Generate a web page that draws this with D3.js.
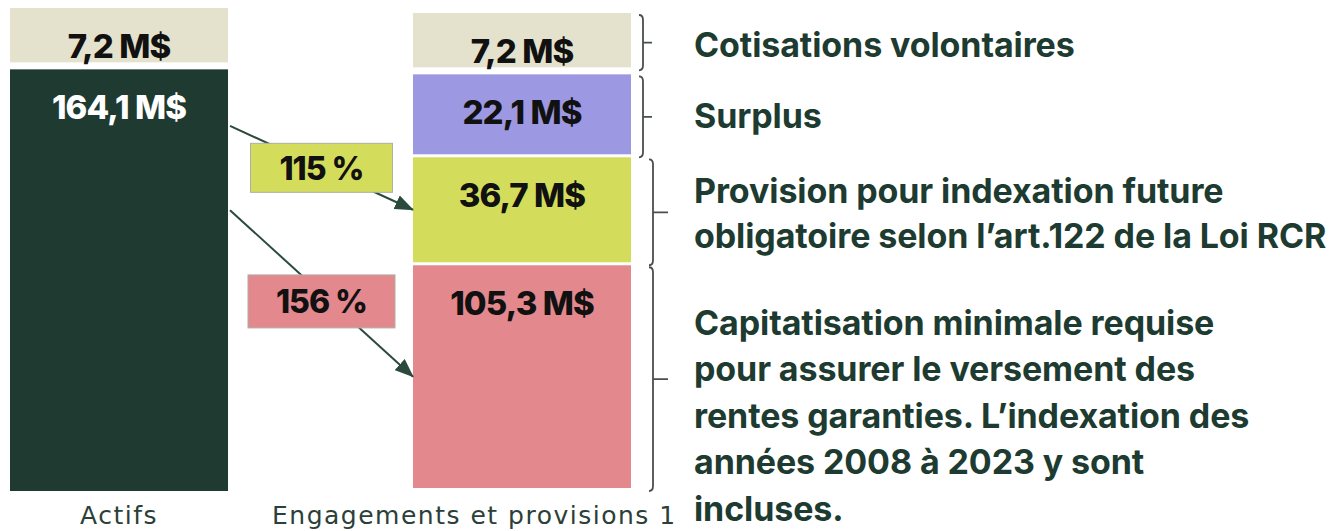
<!DOCTYPE html>
<html lang="fr">
<head>
  <meta charset="UTF-8">
  <title>Actifs et engagements</title>
  <style>
    body { margin: 0; background: #fff; }
    svg { display: block; }
  </style>
</head>
<body>
  <svg class="chart"></svg>
  <script src="https://cdn.jsdelivr.net/npm/d3@7"></script>
  <script>
    // columns and values (M$)
    let columns = ['Actifs', 'Engagements et provisions 1']
    let assetNames = ['Cotisations volontaires', 'Actifs']
    let assetValues = [7.2, 164.1]
    let liabilityNames = ['Cotisations volontaires', 'Surplus', 'Provision', 'Capitatisation']
    let liabilityValues = [7.2, 22.1, 36.7, 105.3]
    let ratioLabels = ['115 %', '156 %']
    let ratioTargets = ['Provision', 'Capitatisation']
    let descriptions = [
      ['Cotisations volontaires'],
      ['Surplus'],
      ['Provision pour indexation future', 'obligatoire selon l’art.122 de la Loi RCR'],
      ['Capitatisation minimale requise', 'pour assurer le versement des',
        'rentes garanties. L’indexation des', 'années 2008 à 2023 y sont', 'incluses.']
    ]

    let width = 1339, height = 531
    let svg = d3.select('svg')
      .attr('width', width)
      .attr('height', height)

    let color = d3.scaleOrdinal()
      .domain(['Cotisations volontaires', 'Actifs', 'Surplus', 'Provision', 'Capitatisation'])
      .range(['#e4e2cd', '#1f3a30', '#9d98e2', '#d4dd5b', '#e3888d'])

    let fmt = v => d3.format('.1f')(v).replace('.', ',') + ' M$'

    let x = d3.scaleBand()
      .domain(columns)
      .range([10, 631])
      .paddingInner(0.459)

    // schematic heights: every block gets a minimum height, plus a part proportional to value
    let yTop = 13, yBottom = 488, gaps = [7, 3, 3], minH = 42
    let avail = yBottom - yTop - d3.sum(gaps)
    let n = liabilityValues.length
    let h = d3.scaleLinear()
      .domain([0, d3.sum(liabilityValues)])
      .range([minH, avail - (n - 1) * minH])

    let segs = []
    let cursor = yTop
    liabilityValues.forEach((v, i) => {
      let y0 = cursor, y1 = cursor + h(v)
      segs.push({ name: liabilityNames[i], value: v, y0: y0, y1: y1, lines: descriptions[i] })
      cursor = y1 + (gaps[i] || 0)
    })

    // left column: first block mirrors the right one, second covers the three others
    let lift = 5
    let assetSegs = [
      { name: 'Cotisations volontaires', value: assetValues[0], y0: segs[0].y0 - lift, y1: segs[0].y1 - lift },
      { name: assetNames[1], value: assetValues[1], y0: segs[1].y0 - lift, y1: segs[n - 1].y1 + 3 }
    ]

    let valueFont = 'Inter, "Liberation Sans", sans-serif'

    function drawColumn(data, col) {
      let g = svg.append('g')
      g.selectAll('rect')
        .data(data)
        .enter()
        .append('rect')
        .attr('x', x(col))
        .attr('width', x.bandwidth())
        .attr('y', d => d.y0)
        .attr('height', d => d.y1 - d.y0)
        .attr('fill', d => color(d.name))

      g.selectAll('text')
        .data(data)
        .enter()
        .append('text')
        .attr('x', x(col) + x.bandwidth() / 2)
        .attr('y', d => d.y0 + 50)
        .attr('text-anchor', 'middle')
        .attr('font-family', valueFont)
        .attr('font-weight', 800)
        .attr('font-size', 33)
        .attr('letter-spacing', -0.9)
        .attr('fill', d => d.name === 'Actifs' ? '#fff' : '#111')
        .text(d => fmt(d.value))
    }

    drawColumn(assetSegs, columns[0])
    drawColumn(segs, columns[1])

    // arrows from assets to the covered blocks
    let arrowColor = '#2a4a3d'
    svg.append('defs').append('marker')
      .attr('id', 'head')
      .attr('markerUnits', 'userSpaceOnUse')
      .attr('viewBox', '0 0 19 15')
      .attr('refX', 18)
      .attr('refY', 7.5)
      .attr('markerWidth', 19)
      .attr('markerHeight', 15)
      .attr('orient', 'auto')
      .append('path')
      .attr('d', 'M0,0 L19,7.5 L0,15 Z')
      .attr('fill', arrowColor)

    let dark = assetSegs[1]
    let startFrac = [0.134, 0.334]
    let arrows = ratioLabels.map((label, i) => {
      let target = segs.find(s => s.name === ratioTargets[i])
      return {
        label: label,
        color: color(target.name),
        x0: x(columns[0]) + x.bandwidth() + 2,
        y0: dark.y0 + startFrac[i] * (dark.y1 - dark.y0),
        x1: x(columns[1]),
        y1: (target.y0 + target.y1) / 2
      }
    })

    let ag = svg.selectAll('.arrow')
      .data(arrows)
      .enter()
      .append('g')
      .attr('class', 'arrow')

    ag.append('line')
      .attr('x1', d => d.x0)
      .attr('y1', d => d.y0)
      .attr('x2', d => d.x1)
      .attr('y2', d => d.y1)
      .attr('stroke', arrowColor)
      .attr('stroke-width', 2)
      .attr('marker-end', 'url(#head)')

    let boxW = [142, 147], boxH = [49, 53]
    ag.append('rect')
      .attr('x', (d, i) => (d.x0 + d.x1) / 2 - boxW[i] / 2)
      .attr('y', (d, i) => (d.y0 + d.y1) / 2 - boxH[i] / 2 + i * 8)
      .attr('width', (d, i) => boxW[i])
      .attr('height', (d, i) => boxH[i])
      .attr('fill', d => d.color)
      .attr('stroke', '#aeaea4')
      .attr('stroke-width', 1)

    ag.append('text')
      .attr('x', d => (d.x0 + d.x1) / 2)
      .attr('y', (d, i) => (d.y0 + d.y1) / 2 + 12 + i * 8)
      .attr('text-anchor', 'middle')
      .attr('font-family', valueFont)
      .attr('font-weight', 800)
      .attr('font-size', 32)
      .attr('letter-spacing', -1)
      .attr('fill', '#111')
      .text(d => d.label)

    // braces and descriptions
    let braceX = [643, 643, 653, 653]
    let tipLen = [9, 9, 15, 15]
    let firstLine = [17, 14, -7, -42]
    let lineH = [47, 47, 45, 46.5]

    let bg = svg.selectAll('.brace')
      .data(segs)
      .enter()
      .append('g')
      .attr('class', 'brace')

    bg.append('path')
      .attr('d', (d, i) => {
        let bx = braceX[i], y0 = d.y0 + 2, y1 = d.y1 + 3, ym = (y0 + y1) / 2
        let p = d3.path()
        p.moveTo(bx - 4, y0)
        p.quadraticCurveTo(bx, y0, bx, y0 + 5)
        p.lineTo(bx, y1 - 5)
        p.quadraticCurveTo(bx, y1, bx - 4, y1)
        p.moveTo(bx, ym)
        p.lineTo(bx + tipLen[i], ym)
        return p.toString()
      })
      .attr('fill', 'none')
      .attr('stroke', '#4a4f4c')
      .attr('stroke-width', 1.8)

    bg.append('text')
      .attr('font-family', valueFont)
      .attr('font-weight', 700)
      .attr('font-size', 34)
      .attr('letter-spacing', -0.1)
      .attr('fill', '#1d3b30')
      .selectAll('tspan')
      .data((d, i) => d.lines.map((l, k) => ({ text: l, y: (d.y0 + d.y1) / 2 + firstLine[i] + k * lineH[i] })))
      .enter()
      .append('tspan')
      .attr('x', 694)
      .attr('y', d => d.y)
      .text(d => d.text)

    // column captions
    svg.selectAll('.caption')
      .data(columns)
      .enter()
      .append('text')
      .attr('class', 'caption')
      .attr('x', (d, i) => i === 0 ? x(d) + x.bandwidth() / 2 : x(d) - 141)
      .attr('y', 524)
      .attr('text-anchor', (d, i) => i === 0 ? 'middle' : 'start')
      .attr('font-family', '"DejaVu Sans", sans-serif')
      .attr('font-size', 25)
      .attr('letter-spacing', 1.5)
      .attr('fill', '#2b4038')
      .text(d => d)
  </script>
</body>
</html>
